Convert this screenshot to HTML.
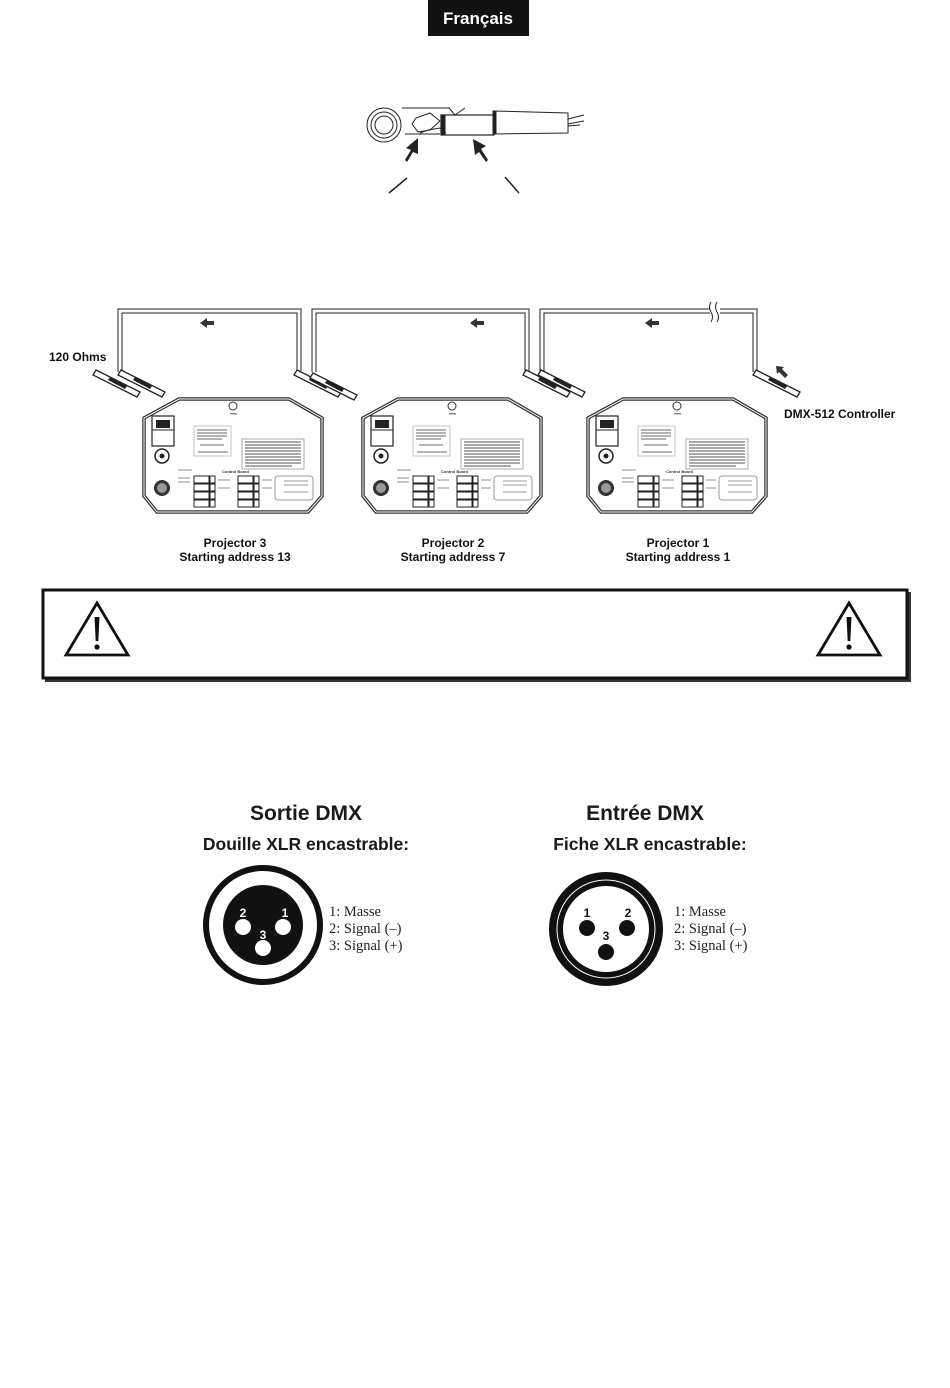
<!DOCTYPE html>
<html><head><meta charset="utf-8"><style>
body{margin:0;background:#fff;width:950px;height:1388px;overflow:hidden;font-family:"Liberation Sans",sans-serif}
svg{position:absolute;left:0;top:0}
</style></head><body>
<svg width="950" height="1388" viewBox="0 0 950 1388" xmlns="http://www.w3.org/2000/svg" font-family="Liberation Sans, sans-serif">
<defs>
<g id="proj">
  <path d="M37,3 L147,3 L180,22 L180,100 L166,116 L15,116 L2,100 L2,22 Z" fill="#fff" stroke="#333" stroke-width="3.5"/>
  <path d="M37,3 L147,3 L180,22 L180,100 L166,116 L15,116 L2,100 L2,22 Z" fill="none" stroke="#fff" stroke-width="1"/>
  <circle cx="91" cy="10" r="4" fill="none" stroke="#333" stroke-width="1"/>
  <rect x="88" y="17" width="7" height="1.5" fill="#888"/>
  <rect x="10" y="20" width="22" height="30" fill="#fff" stroke="#222" stroke-width="1.2"/>
  <line x1="10" y1="34" x2="32" y2="34" stroke="#222"/>
  <path d="M14,24 h14 v8 h-14z" fill="#222"/>
  <circle cx="20" cy="60" r="7" fill="#fff" stroke="#222" stroke-width="1.5"/>
  <circle cx="20" cy="60" r="2.5" fill="#222"/>
  <circle cx="20" cy="92" r="8" fill="#333"/>
  <circle cx="20" cy="92" r="5" fill="#999"/>
  <rect x="52" y="30" width="37" height="30" fill="#fff" stroke="#aaa" stroke-width="0.7"/>
  <g stroke="#666" stroke-width="1"><line x1="55" y1="34" x2="85" y2="34"/><line x1="55" y1="37" x2="85" y2="37"/><line x1="55" y1="40" x2="85" y2="40"/><line x1="55" y1="43" x2="80" y2="43"/><line x1="58" y1="49" x2="82" y2="49"/><line x1="56" y1="56" x2="86" y2="56"/></g>
  <rect x="100" y="43" width="62" height="30" fill="#fff" stroke="#888" stroke-width="0.7"/>
  <g stroke="#555" stroke-width="1.1"><line x1="103" y1="46" x2="159" y2="46"/><line x1="103" y1="49" x2="159" y2="49"/><line x1="103" y1="52" x2="159" y2="52"/><line x1="103" y1="55" x2="159" y2="55"/><line x1="103" y1="58" x2="159" y2="58"/><line x1="103" y1="61" x2="159" y2="61"/><line x1="103" y1="64" x2="159" y2="64"/><line x1="103" y1="67" x2="159" y2="67"/><line x1="103" y1="70" x2="150" y2="70"/></g>
  <g fill="#fff" stroke="#222" stroke-width="1">
   <rect x="52" y="80" width="15" height="7"/><rect x="68" y="80" width="5" height="7"/>
   <rect x="52" y="88" width="15" height="7"/><rect x="68" y="88" width="5" height="7"/>
   <rect x="52" y="96" width="15" height="7"/><rect x="68" y="96" width="5" height="7"/>
   <rect x="52" y="104" width="15" height="7"/><rect x="68" y="104" width="5" height="7"/>
   <rect x="96" y="80" width="15" height="7"/><rect x="112" y="80" width="5" height="7"/>
   <rect x="96" y="88" width="15" height="7"/><rect x="112" y="88" width="5" height="7"/>
   <rect x="96" y="96" width="15" height="7"/><rect x="112" y="96" width="5" height="7"/>
   <rect x="96" y="104" width="15" height="7"/><rect x="112" y="104" width="5" height="7"/>
   <rect x="133" y="80" width="38" height="24" rx="3" stroke="#999"/>
  </g>
  <text x="80" y="77" font-size="4" font-weight="bold" fill="#333">Control Board</text>
  <g stroke="#777" stroke-width="0.8"><line x1="36" y1="74" x2="50" y2="74"/><line x1="36" y1="82" x2="48" y2="82"/><line x1="36" y1="86" x2="48" y2="86"/><line x1="76" y1="84" x2="88" y2="84"/><line x1="76" y1="92" x2="88" y2="92"/><line x1="120" y1="84" x2="130" y2="84"/><line x1="120" y1="92" x2="130" y2="92"/><line x1="142" y1="85" x2="166" y2="85"/><line x1="142" y1="89" x2="166" y2="89"/><line x1="142" y1="96" x2="166" y2="96"/></g>
</g>
<g id="plug">
  <path d="M0,0 L44,22 L41,27 L-3,5 Z" fill="#fff" stroke="#222" stroke-width="1.3"/>
  <path d="M14,7 L31,16 L29,19 L12,10 Z" fill="#222"/>
</g>
<g id="warn">
  <path d="M32,3 L63,55 L1,55 Z" fill="#fff" stroke="#111" stroke-width="2.8" stroke-linejoin="miter"/>
  <path d="M29.5,17 L34.5,17 L33.3,41 L30.7,41 Z" fill="#111"/>
  <circle cx="32" cy="47" r="2.6" fill="#111"/>
</g>
</defs>

<rect x="428" y="0" width="101" height="36" fill="#111"/>
<text x="478" y="24" font-size="17" font-weight="bold" fill="#fff" text-anchor="middle">Français</text>

<!-- jack plug -->
<g fill="none" stroke="#222" stroke-width="1">
  <circle cx="384" cy="125" r="17"/><circle cx="384" cy="125" r="13"/><circle cx="384" cy="125" r="9"/>
  <line x1="402" y1="108" x2="450" y2="108"/>
  <path d="M449,108 L455,115 L465,108"/>
  <path d="M440,121 L430,113 L416,118 L412,124 L418,132 L430,130 L440,121"/>
  <line x1="405" y1="134" x2="440" y2="134"/>
  <path d="M420,133 L428,130 L440,128 L446,133"/>
  <rect x="441" y="115" width="53" height="20" stroke-width="1.2"/>
  <rect x="441" y="115" width="4" height="20" fill="#222"/>
  <path d="M494,111 L568,113 L568,133 L494,134 Z"/>
  <rect x="493" y="111" width="3" height="23" fill="#222"/>
  <path d="M568,119 L584,115 M568,124 L584,121 M568,126 L580,125"/>
</g>
<path d="M405,160 L411,150 L406,148 L418,138 L418,154 L413,152 L407,162 Z" fill="#222"/>
<path d="M486,162 L479,152 L475,155 L473,139 L486,146 L481,149 L488,160 Z" fill="#222"/>
<line x1="389" y1="193" x2="407" y2="178" stroke="#222" stroke-width="1.5"/>
<line x1="505" y1="177" x2="519" y2="193" stroke="#222" stroke-width="1.5"/>

<!-- cables -->
<g fill="none" stroke="#222" stroke-width="1">
  <path d="M118,372 V309 H301 V371"/><path d="M122,372 V313 H297 V371"/>
  <path d="M312,372 V309 H529 V371"/><path d="M316,372 V313 H525 V371"/>
  <path d="M540,372 V309 H710"/><path d="M544,372 V313 H710"/>
  <path d="M720,309 H757 V372"/><path d="M720,313 H753 V372"/>
  <path d="M711,302 q-3,5 0,10 q3,5 0,10" /><path d="M717,302 q-3,5 0,10 q3,5 0,10"/>
</g>
<use href="#plug" transform="translate(96,370)"/>
<use href="#plug" transform="translate(121,370)"/>
<use href="#plug" transform="translate(297,370)"/>
<use href="#plug" transform="translate(313,373)"/>
<use href="#plug" transform="translate(526,370)"/>
<use href="#plug" transform="translate(541,370)"/>
<use href="#plug" transform="translate(756,370)"/>
<g fill="#333">
  <path d="M200,323 L207,318 L207,321 L214,321 L214,325 L207,325 L207,328 Z"/>
  <path d="M470,323 L477,318 L477,321 L484,321 L484,325 L477,325 L477,328 Z"/>
  <path d="M645,323 L652,318 L652,321 L659,321 L659,325 L652,325 L652,328 Z"/>
  <path d="M776,366 L784,367 L782,369 L788,375 L785,378 L779,372 L777,374 Z"/>
</g>
<text x="49" y="361" font-size="12" font-weight="bold" fill="#111">120 Ohms</text>
<text x="784" y="418" font-size="12" font-weight="bold" fill="#111">DMX-512 Controller</text>

<use href="#proj" transform="translate(142,396)"/>
<use href="#proj" transform="translate(361,396)"/>
<use href="#proj" transform="translate(586,396)"/>

<g font-size="12" font-weight="bold" fill="#111" text-anchor="middle">
<text x="235" y="547">Projector 3</text><text x="235" y="561">Starting address 13</text>
<text x="453" y="547">Projector 2</text><text x="453" y="561">Starting address 7</text>
<text x="678" y="547">Projector 1</text><text x="678" y="561">Starting address 1</text>
</g>

<!-- warning box -->
<rect x="45" y="592" width="866" height="90" fill="#333"/>
<rect x="43" y="590" width="864" height="88" fill="#fff" stroke="#111" stroke-width="3"/>
<use href="#warn" transform="translate(65,600)"/>
<use href="#warn" transform="translate(817,600)"/>

<!-- XLR -->
<g font-weight="bold" fill="#1a1a1a" text-anchor="middle">
<text x="306" y="820" font-size="21">Sortie DMX</text>
<text x="306" y="850" font-size="17.5">Douille XLR encastrable:</text>
<text x="645" y="820" font-size="21">Entrée DMX</text>
<text x="650" y="850" font-size="17.5">Fiche XLR encastrable:</text>
</g>
<circle cx="263" cy="925" r="57" fill="#fff" stroke="#111" stroke-width="6"/>
<circle cx="263" cy="925" r="40" fill="#111"/>
<g fill="#fff"><circle cx="243" cy="927" r="8"/><circle cx="283" cy="927" r="8"/><circle cx="263" cy="948" r="8"/></g>
<g fill="#fff" font-size="12" font-weight="bold" text-anchor="middle"><text x="243" y="917">2</text><text x="285" y="917">1</text><text x="263" y="939">3</text></g>

<circle cx="606" cy="929" r="50" fill="#fff" stroke="#111" stroke-width="14"/>
<circle cx="606" cy="929" r="49" fill="none" stroke="#fff" stroke-width="1"/>
<g fill="#111"><circle cx="587" cy="928" r="8"/><circle cx="627" cy="928" r="8"/><circle cx="606" cy="952" r="8"/></g>
<g fill="#111" font-size="12" font-weight="bold" text-anchor="middle"><text x="587" y="917">1</text><text x="628" y="917">2</text><text x="606" y="940">3</text></g>

<g font-family="Liberation Serif, serif" font-size="14.5" fill="#222">
<text x="329" y="916">1: Masse</text><text x="329" y="933">2: Signal (–)</text><text x="329" y="950">3: Signal (+)</text>
<text x="674" y="916">1: Masse</text><text x="674" y="933">2: Signal (–)</text><text x="674" y="950">3: Signal (+)</text>
</g>
</svg>
</body></html>
